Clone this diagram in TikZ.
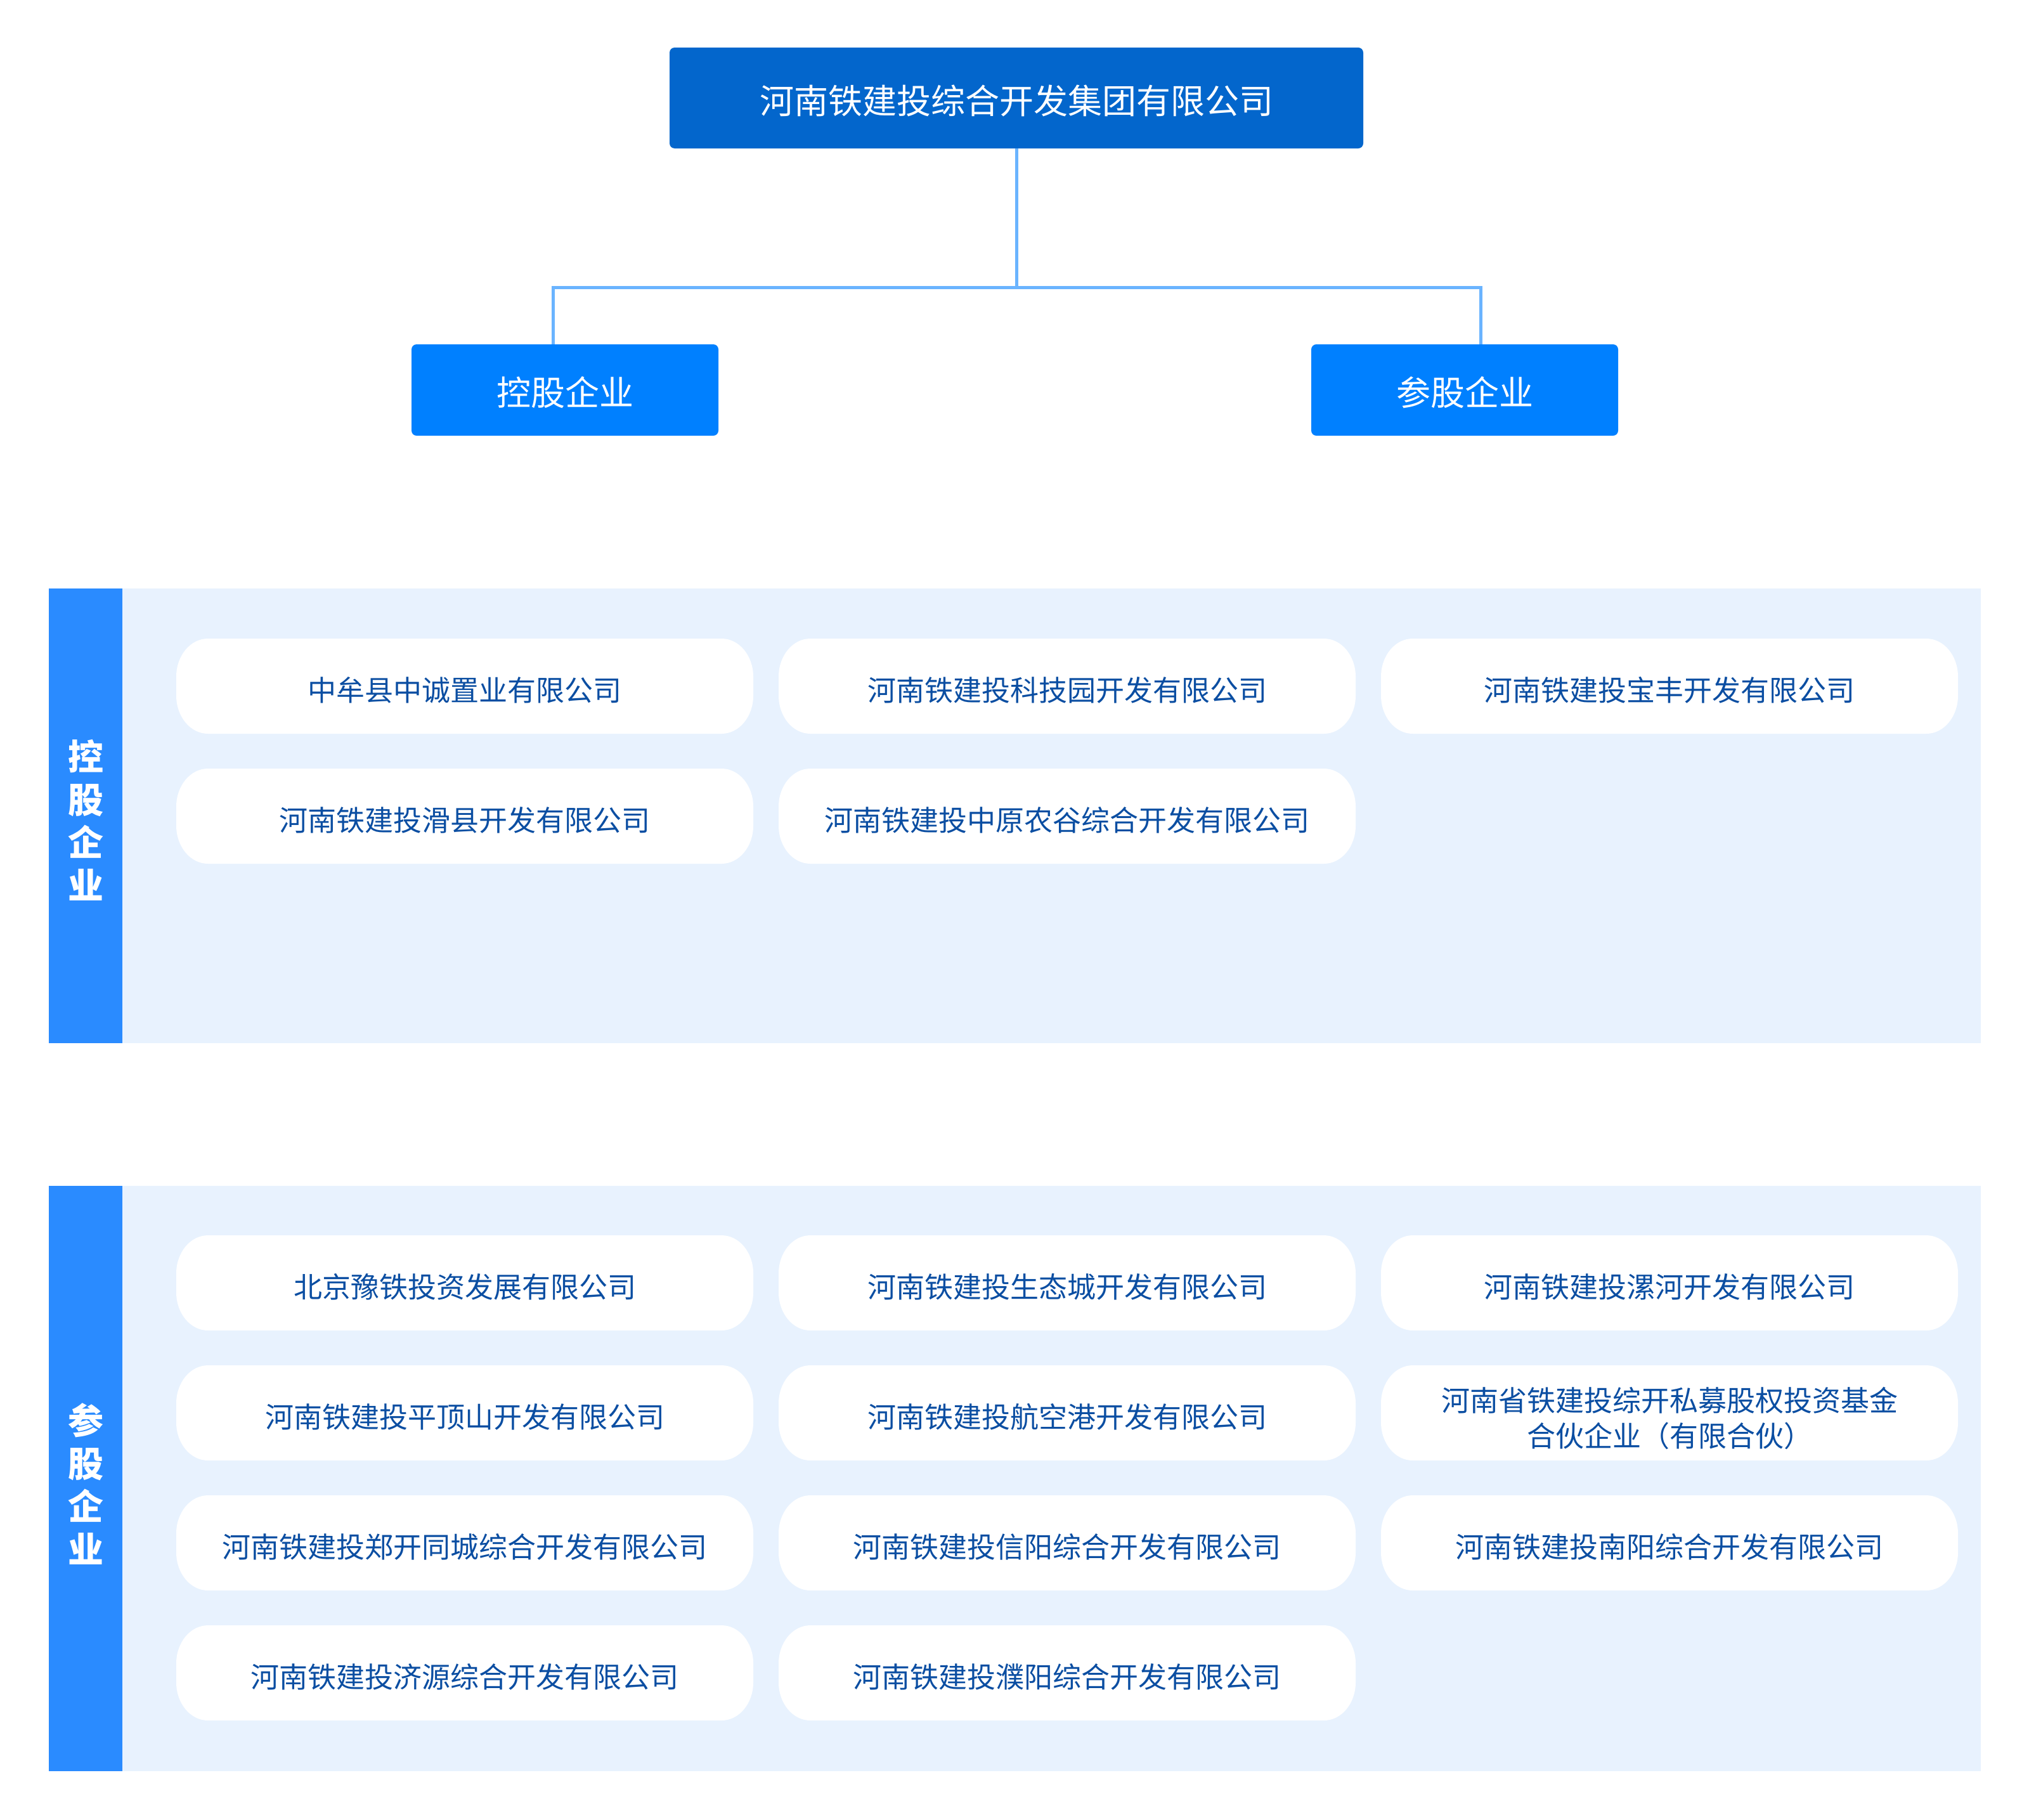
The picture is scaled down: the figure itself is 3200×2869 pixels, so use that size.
\documentclass[tikz,border=0pt]{standalone}
\usepackage{fontspec}
\setmainfont{Noto Sans CJK SC}
\definecolor{topblue}{HTML}{0366CC}
\definecolor{subblue}{HTML}{0080FF}
\definecolor{barblue}{HTML}{2A8BFF}
\definecolor{panelbg}{HTML}{E8F2FE}
\definecolor{linkblue}{HTML}{6AB4FF}
\definecolor{cardtext}{HTML}{0B4EA2}
\tikzset{
  topbox/.style={fill=topblue, rounded corners=8pt, minimum width=1094pt, minimum height=159pt,
    inner sep=0pt, text=white, font=\fontsize{54}{64}\selectfont, text height=49pt, text depth=0pt},
  subbox/.style={fill=subblue, rounded corners=8pt, minimum width=484pt, minimum height=144pt,
    inner sep=0pt, text=white, font=\fontsize{54}{64}\selectfont, text height=49pt, text depth=0pt},
  cardtxt/.style={inner sep=0pt, text=cardtext, align=center,
    font=\fontsize{45}{56}\selectfont, text height=46pt, text depth=0pt},
  bartxt/.style={inner sep=0pt, text=white, align=center,
    font=\bfseries\fontsize{56}{67.5}\selectfont, text height=42.6pt, text depth=0pt},
  conn/.style={draw=linkblue, line width=5pt}
}
\newcommand{\cardbox}[5][0]{%
  \fill[white] ({#3-405},{#4-75}) -- ({#3+405},{#4-75})
    arc[start angle=-90,end angle=0,x radius=50,y radius=60] -- ({#3+455},{#4+15})
    arc[start angle=0,end angle=90,x radius=50,y radius=60] -- ({#3-405},{#4+75})
    arc[start angle=90,end angle=180,x radius=50,y radius=60] -- ({#3-455},{#4-15})
    arc[start angle=180,end angle=270,x radius=50,y radius=60] -- cycle;
  \node[cardtxt] (#2) at (#3,{#4+#1}) {#5};
}
\begin{document}
\begin{tikzpicture}[x=1pt,y=-1pt]
\useasboundingbox (0,0) rectangle (3200,2869);
\fill[white] (0,0) rectangle (3200,2869);

% top hierarchy
\node[topbox] (top) at (1603,154.5) {河南铁建投综合开发集团有限公司};
\node[subbox] (subL) at (891,615) {控股企业};
\node[subbox] (subR) at (2310,615) {参股企业};
\coordinate (j) at (1603,453);
\draw[conn] (top.south) -- (j);
\draw[conn] ([xshift=-19pt]subL.north) |- (j) -| ([xshift=25pt]subR.north);

% panel 1
\fill[panelbg] (77,928) rectangle (3124,1645);
\fill[barblue] (77,928) rectangle (193,1645);
\node[bartxt] (bar1) at (135,1396) {控\\股\\企\\业};
\cardbox{a1}{733}{1082}{中牟县中诚置业有限公司}
\cardbox{a2}{1683}{1082}{河南铁建投科技园开发有限公司}
\cardbox{a3}{2633}{1082}{河南铁建投宝丰开发有限公司}
\cardbox{a4}{733}{1287}{河南铁建投滑县开发有限公司}
\cardbox{a5}{1683}{1287}{河南铁建投中原农谷综合开发有限公司}

% panel 2
\fill[panelbg] (77,1870) rectangle (3124,2793);
\fill[barblue] (77,1870) rectangle (193,2793);
\node[bartxt] (bar2) at (135,2443) {参\\股\\企\\业};
\cardbox{b1}{733}{2023}{北京豫铁投资发展有限公司}
\cardbox{b2}{1683}{2023}{河南铁建投生态城开发有限公司}
\cardbox{b3}{2633}{2023}{河南铁建投漯河开发有限公司}
\cardbox{b4}{733}{2228}{河南铁建投平顶山开发有限公司}
\cardbox{b5}{1683}{2228}{河南铁建投航空港开发有限公司}
\cardbox[30]{b6}{2633}{2228}{河南省铁建投综开私募股权投资基金\\合伙企业（有限合伙）}
\cardbox{b7}{733}{2433}{河南铁建投郑开同城综合开发有限公司}
\cardbox{b8}{1683}{2433}{河南铁建投信阳综合开发有限公司}
\cardbox{b9}{2633}{2433}{河南铁建投南阳综合开发有限公司}
\cardbox{b10}{733}{2638}{河南铁建投济源综合开发有限公司}
\cardbox{b11}{1683}{2638}{河南铁建投濮阳综合开发有限公司}
\end{tikzpicture}
\end{document}
